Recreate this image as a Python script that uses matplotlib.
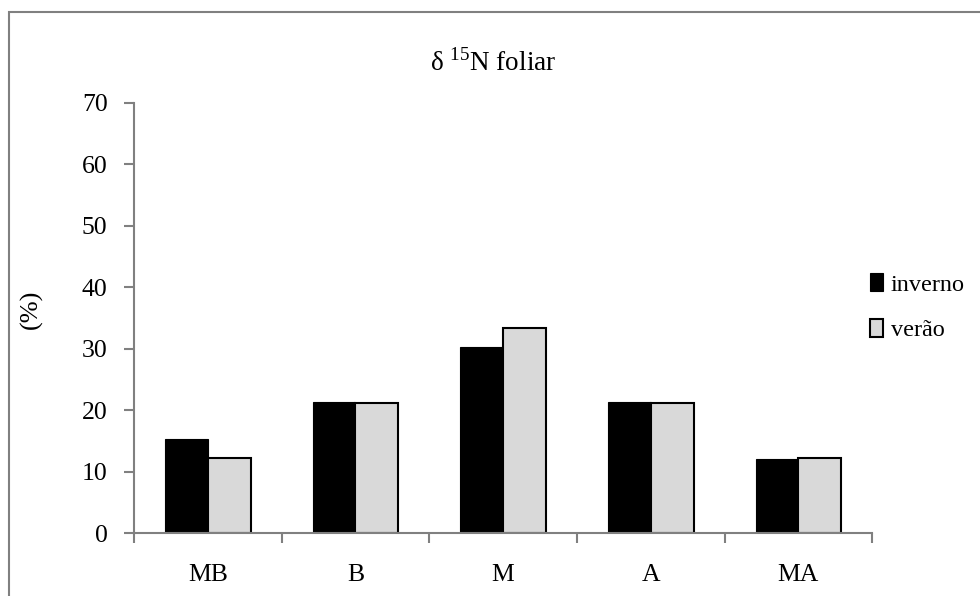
import numpy as np
import matplotlib.pyplot as plt
from matplotlib.patches import Rectangle

plt.rcParams['font.family'] = ['Liberation Serif', 'DejaVu Serif']
plt.rcParams['mathtext.fontset'] = 'custom'
plt.rcParams['mathtext.rm'] = 'Liberation Serif'

categorias = ['MB', 'B', 'M', 'A', 'MA']
inverno = [15.3, 21.3, 30.3, 21.3, 12.1]
verao = [12.2, 21.1, 33.3, 21.1, 12.2]

fig = plt.figure(figsize=(9.8, 5.96), dpi=100)
ax = fig.add_axes([0.1367, 0.1057, 0.7533, 0.7215])

x = np.arange(len(categorias))
w = 0.29
ax.bar(x - w/2, inverno, w, color='black', edgecolor='black', linewidth=0.8, label='inverno')
ax.bar(x + w/2, verao, w, color='#d9d9d9', edgecolor='black', linewidth=1.5, label='verão')

ax.set_xlim(-0.5, len(categorias) - 0.5)
ax.set_ylim(0, 70)
ax.set_yticks(range(0, 71, 10))

# category labels at the centres, tick marks at the boundaries
ax.set_xticks(x)
ax.set_xticklabels(categorias, fontsize=18.5)
ax.set_xticks(np.arange(-0.5, len(categorias)), minor=True)
ax.tick_params(axis='x', which='major', length=0, pad=22)
ax.tick_params(axis='x', which='minor', length=7, width=1.5, color='#808080')
ax.tick_params(axis='y', length=7, width=1.5, color='#808080', labelsize=18.5, pad=12)

for s in ['top', 'right']:
    ax.spines[s].set_visible(False)
for s in ['left', 'bottom']:
    ax.spines[s].set_color('#808080')
    ax.spines[s].set_linewidth(1.5)

ax.set_ylabel('(%)', fontsize=19)
ax.yaxis.set_label_coords(-0.123, 0.52)

fig.text(0.503, 0.895, r'δ $^{\mathrm{15}}$N foliar', ha='center', va='center', fontsize=19.5)

leg = ax.legend(loc='center left', bbox_to_anchor=(0.997, 0.525), frameon=False,
                fontsize=17.5, handlelength=0.55, handleheight=0.75, handletextpad=0.3,
                labelspacing=0.95, borderaxespad=0, borderpad=0)

# chart frame
fig.patches.append(Rectangle((9/980, -0.1), 1.2, 1 - 12/596 + 0.1, transform=fig.transFigure,
                             fill=False, edgecolor='#808080', linewidth=1.5))

fig.savefig('out.png', dpi=100)
